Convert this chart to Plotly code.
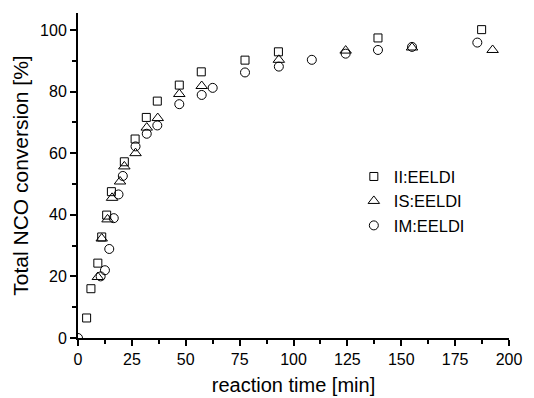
import plotly.graph_objects as go

# Total NCO conversion vs. reaction time for three prepolymer systems
ii_time = [4, 6, 9.2, 11, 13.3, 15.5, 21.5, 26.5, 31.7, 36.8, 47, 57.2, 77.5, 93, 139.2, 187.3]
ii_conv = [6.5, 16, 24.3, 32.8, 39.9, 47.5, 57.2, 64.6, 71.6, 76.9, 82.1, 86.4, 90.2, 92.9, 97.4, 100.1]

is_time = [9.2, 11, 13.7, 15.8, 19.5, 21.5, 26.7, 31.9, 37, 47, 57.4, 93.2, 124.2, 155, 192.4]
is_conv = [19.8, 32.3, 38.5, 45.5, 50.8, 55.7, 60, 68.3, 71.4, 79.2, 81.8, 90.3, 93.3, 94.3, 93.5]

im_time = [0, 10.5, 12.5, 14.5, 16.6, 18.8, 20.8, 26.7, 31.9, 36.8, 47, 57.4, 62.5, 77.5, 93.2,
           108.5, 124.2, 139.2, 155, 185.3]
im_conv = [0, 20, 22, 28.9, 38.9, 46.6, 52.6, 62.2, 66.3, 69, 75.9, 78.9, 81.2, 86.2, 88.1,
           90.3, 92.3, 93.5, 94.5, 95.9]

series_names = ["II:EELDI", "IS:EELDI", "IM:EELDI"]
x_ticks = [0, 25, 50, 75, 100, 125, 150, 175, 200]
y_ticks = [0, 20, 40, 60, 80, 100]

font_family = "Arial, 'Liberation Sans', sans-serif"

fig = go.Figure()
styles = [
    (ii_time, ii_conv, "square-open", 8),
    (is_time, is_conv, "triangle-up-open", 10),
    (im_time, im_conv, "circle-open", 9),
]
for name, (xs, ys, sym, size) in zip(series_names, styles):
    fig.add_trace(go.Scatter(
        x=xs, y=ys, mode="markers", name=name,
        marker=dict(symbol=sym, size=size, color="black", line=dict(color="black", width=1)),
        cliponaxis=True,
    ))

axis_common = dict(
    showline=True, linecolor="black", linewidth=2,
    ticks="outside", tickcolor="black", tickwidth=2, ticklen=6,
    showgrid=False, zeroline=False, mirror=False, automargin=False,
    tickfont=dict(family=font_family, size=16, color="black"),
)

fig.update_xaxes(
    range=[0, 200], tickvals=x_ticks,
    minor=dict(dtick=12.5, tick0=0, ticks="outside", ticklen=4, tickwidth=1.5, tickcolor="black"),
    title=dict(text="reaction time [min]", font=dict(family=font_family, size=20, color="black"),
               standoff=11),
    **axis_common,
)
fig.update_yaxes(
    range=[0, 105.5], tickvals=y_ticks,
    minor=dict(dtick=10, tick0=0, ticks="outside", ticklen=4, tickwidth=1.5, tickcolor="black"),
    title=dict(text="Total NCO conversion [%]", font=dict(family=font_family, size=21, color="black"),
               standoff=6),
    **axis_common,
)

fig.update_layout(
    width=534, height=398,
    margin=dict(l=78, r=25, t=13, b=60),
    paper_bgcolor="white", plot_bgcolor="white",
    showlegend=True,
    legend=dict(
        x=0.64, y=0.55, xanchor="left", yanchor="top",
        bgcolor="rgba(0,0,0,0)", borderwidth=0,
        font=dict(family=font_family, size=16.5, color="black"),
        itemsizing="trace",
    ),
)

fig.write_html("out.html")
